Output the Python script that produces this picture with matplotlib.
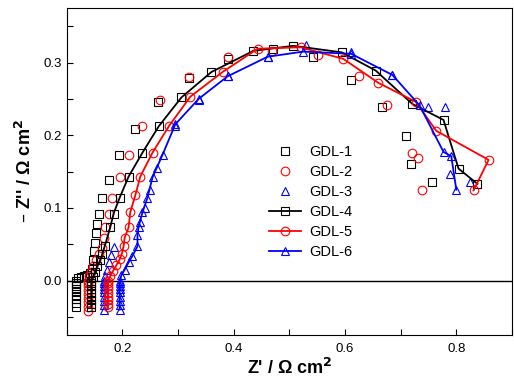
import numpy as np
import matplotlib.pyplot as plt
from matplotlib.ticker import MultipleLocator

plt.rcParams['font.family'] = ['Liberation Sans', 'DejaVu Sans']

# inductive tail (vertical run of points below zero), shared spacing
tail_y = [-0.036, -0.031, -0.026, -0.021, -0.016, -0.011, -0.007, -0.003, 0.0]

# GDL-1 (scatter)
gdl1_x = [0.116] * 9 + [0.120, 0.125, 0.131, 0.137, 0.142, 0.146, 0.147, 0.148, 0.150,
                        0.152, 0.155, 0.158, 0.163, 0.175, 0.193, 0.223, 0.263, 0.319,
                        0.389, 0.470, 0.543, 0.611, 0.667, 0.709, 0.719, 0.757]
gdl1_y = tail_y + [0.003, 0.005, 0.006, 0.008, 0.011, 0.016, 0.028, 0.040, 0.052,
                   0.065, 0.078, 0.092, 0.113, 0.139, 0.173, 0.209, 0.245, 0.279,
                   0.305, 0.318, 0.307, 0.276, 0.239, 0.199, 0.160, 0.136]

# GDL-2 (scatter)
gdl2_x = [0.138] * 9 + [0.140, 0.143, 0.147, 0.152, 0.158, 0.163, 0.166, 0.169, 0.175,
                        0.182, 0.195, 0.211, 0.236, 0.268, 0.319, 0.390, 0.468, 0.552,
                        0.626, 0.676, 0.721, 0.732, 0.739]
gdl2_y = [-0.042, -0.036, -0.030, -0.024, -0.018, -0.013, -0.008, -0.004, 0.0] + \
         [0.006, 0.012, 0.020, 0.028, 0.036, 0.045, 0.059, 0.073, 0.092,
          0.114, 0.142, 0.173, 0.213, 0.249, 0.280, 0.308, 0.316, 0.311,
          0.281, 0.241, 0.176, 0.169, 0.125]

# GDL-3 (scatter)
gdl3_x = [0.166] * 9 + [0.168, 0.172, 0.176, 0.180, 0.185, 0.232, 0.240, 0.250, 0.262,
                        0.295, 0.337, 0.389, 0.461, 0.529, 0.611, 0.685, 0.750, 0.780,
                        0.788, 0.825]
gdl3_y = [-0.040, -0.034, -0.028, -0.022, -0.016, -0.011, -0.007, -0.003, 0.0] + \
         [0.006, 0.015, 0.025, 0.035, 0.046, 0.080, 0.100, 0.125, 0.155,
          0.213, 0.249, 0.281, 0.307, 0.324, 0.314, 0.283, 0.239, 0.239,
          0.146, 0.136]

# GDL-4 (line + squares)
gdl4_x = [0.144] * 9 + [0.147, 0.151, 0.155, 0.160, 0.164, 0.168, 0.178, 0.184, 0.195,
                        0.211, 0.236, 0.265, 0.306, 0.360, 0.435, 0.507, 0.594, 0.655,
                        0.721, 0.777, 0.804, 0.838]
gdl4_y = [-0.037, -0.032, -0.027, -0.022, -0.017, -0.012, -0.008, -0.004, 0.0] + \
         [0.005, 0.012, 0.020, 0.028, 0.037, 0.047, 0.073, 0.092, 0.114,
          0.143, 0.176, 0.212, 0.252, 0.287, 0.316, 0.323, 0.314, 0.289,
          0.243, 0.221, 0.154, 0.133]

# GDL-5 (line + circles)
gdl5_x = [0.174] * 9 + [0.178, 0.183, 0.189, 0.195, 0.199, 0.202, 0.204, 0.211, 0.214,
                        0.223, 0.232, 0.254, 0.284, 0.322, 0.380, 0.443, 0.520, 0.597,
                        0.660, 0.727, 0.764, 0.858, 0.831]
gdl5_y = [-0.037, -0.032, -0.027, -0.022, -0.017, -0.012, -0.008, -0.004, 0.0] + \
         [0.006, 0.013, 0.021, 0.029, 0.037, 0.047, 0.059, 0.073, 0.094,
          0.117, 0.143, 0.176, 0.213, 0.253, 0.287, 0.319, 0.321, 0.305,
          0.272, 0.246, 0.206, 0.166, 0.124]

# GDL-6 (line + triangles)
gdl6_x = [0.195] * 9 + [0.198, 0.204, 0.211, 0.218, 0.227, 0.227, 0.229, 0.236, 0.245,
                        0.254, 0.272, 0.295, 0.337, 0.389, 0.461, 0.525, 0.611, 0.685,
                        0.734, 0.777, 0.791, 0.800]
gdl6_y = [-0.040, -0.034, -0.028, -0.022, -0.016, -0.011, -0.007, -0.003, 0.0] + \
         [0.007, 0.015, 0.025, 0.034, 0.047, 0.062, 0.074, 0.094, 0.114,
          0.142, 0.173, 0.215, 0.250, 0.281, 0.308, 0.315, 0.312, 0.283,
          0.241, 0.177, 0.171, 0.125]

fig = plt.figure(figsize=(5.14, 3.82), dpi=100)
ax = fig.add_axes([0.130, 0.123, 0.866, 0.856])

ax.axhline(0, color='k', lw=1.0, zorder=1)

ms = 5.6
ax.plot(gdl1_x, gdl1_y, ls='none', marker='s', ms=ms, mfc='none', mec='k', mew=0.8, label='GDL-1')
ax.plot(gdl2_x, gdl2_y, ls='none', marker='o', ms=ms + 0.6, mfc='none', mec='r', mew=0.8, label='GDL-2')
ax.plot(gdl3_x, gdl3_y, ls='none', marker='^', ms=ms + 0.6, mfc='none', mec='b', mew=0.8, label='GDL-3')
ax.plot(gdl4_x, gdl4_y, color='k', lw=1.3, marker='s', ms=ms, mfc='none', mec='k', mew=0.8, label='GDL-4')
ax.plot(gdl5_x, gdl5_y, color='r', lw=1.3, marker='o', ms=ms + 0.6, mfc='none', mec='r', mew=0.8, label='GDL-5')
ax.plot(gdl6_x, gdl6_y, color='b', lw=1.3, marker='^', ms=ms + 0.6, mfc='none', mec='b', mew=0.8, label='GDL-6')

ax.set_xlim(0.1, 0.9)
ax.set_ylim(-0.075, 0.375)
ax.xaxis.set_major_locator(MultipleLocator(0.2))
ax.xaxis.set_minor_locator(MultipleLocator(0.1))
ax.yaxis.set_major_locator(MultipleLocator(0.1))
ax.yaxis.set_minor_locator(MultipleLocator(0.05))
ax.tick_params(which='both', direction='in', length=4, width=0.8, labelsize=9.5,
               top=False, right=False)
ax.tick_params(axis='x', pad=6)

ax.set_xlabel("Z' / \u03a9 cm$^{\\mathbf{2}}$", fontsize=13, fontweight='bold', labelpad=2)
ax.set_ylabel("\u2013 Z'' / \u03a9 cm$^{\\mathbf{2}}$", fontsize=13, fontweight='bold', labelpad=6)

ax.legend(loc='upper left', bbox_to_anchor=(0.44, 0.60), frameon=False, fontsize=10.5,
          handlelength=2.2, labelspacing=0.42, borderaxespad=0, handletextpad=0.6)

fig.savefig('out.png', dpi=100)
